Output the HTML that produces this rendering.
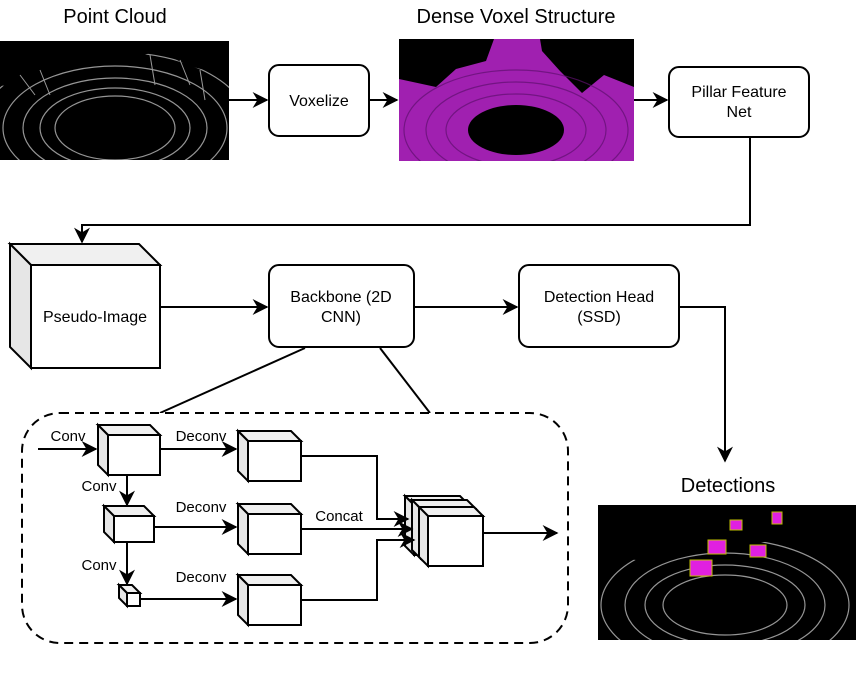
<!DOCTYPE html>
<html><head><style>body{margin:0;background:#fff}svg{display:block;font-family:"Liberation Sans",sans-serif}</style></head><body>
<svg width="858" height="686" viewBox="0 0 858 686" xmlns="http://www.w3.org/2000/svg">
<defs>
<marker id="a" viewBox="0 0 10 10" refX="9" refY="5" markerWidth="8" markerHeight="8" orient="auto"><path d="M0,0L10,5L0,10L3,5z" fill="#000"/></marker>
<clipPath id="c1"><rect x="0" y="41" width="229" height="119"/></clipPath>
<clipPath id="c2"><rect x="399" y="39" width="235" height="122"/></clipPath>
<clipPath id="c3"><rect x="598" y="505" width="258" height="135"/></clipPath>
</defs>
<g fill="none" stroke="#000" stroke-width="2">
<g clip-path="url(#c1)">
<rect x="0" y="41" width="229" height="119" fill="#000" stroke="none"/>
<g stroke="#bbb" stroke-width="1.2" opacity="0.8">
<ellipse cx="115" cy="128" rx="60" ry="32"/><ellipse cx="115" cy="128" rx="75" ry="40"/><ellipse cx="115" cy="128" rx="92" ry="50"/><ellipse cx="115" cy="128" rx="112" ry="62"/><ellipse cx="115" cy="128" rx="135" ry="76"/>
</g>
<path d="M0,41h229v35l-40,-10l-30,-15l-40,10l-40,5l-40,15l-39,5z" fill="#000" stroke="none"/>
<g stroke="#999" stroke-width="1"><path d="M20,75l15,20M40,70l10,25M150,55l5,30M180,60l10,25M200,70l5,30"/></g>
</g>
<g clip-path="url(#c2)">
<rect x="399" y="39" width="235" height="122" fill="#a020b0" stroke="none"/>
<path d="M399,39h95l-8,22l-30,8l-20,18l-37,-8z M540,39h94v48l-30,-12l-22,18l-22,-22l-18,-20z" fill="#000" stroke="none"/>
<g stroke="#601070" stroke-width="1.2" opacity="0.7"><ellipse cx="516" cy="130" rx="70" ry="36"/><ellipse cx="516" cy="130" rx="90" ry="48"/><ellipse cx="516" cy="130" rx="112" ry="60"/></g>
<ellipse cx="516" cy="130" rx="48" ry="25" fill="#000" stroke="none"/>
</g>
<g clip-path="url(#c3)">
<rect x="598" y="505" width="258" height="135" fill="#000" stroke="none"/>
<g stroke="#bbb" stroke-width="1.2" opacity="0.8">
<ellipse cx="725" cy="605" rx="62" ry="30"/><ellipse cx="725" cy="605" rx="80" ry="40"/><ellipse cx="725" cy="605" rx="100" ry="52"/><ellipse cx="725" cy="605" rx="124" ry="66"/>
</g>
<path d="M598,505h258v40l-50,-10l-60,10l-60,5l-50,10l-38,-5z" fill="#000" stroke="none"/>
<g fill="#e020e0" stroke="#c0c000" stroke-width="1"><rect x="690" y="560" width="22" height="16"/><rect x="708" y="540" width="18" height="14"/><rect x="750" y="545" width="16" height="12"/><rect x="730" y="520" width="12" height="10"/><rect x="772" y="512" width="10" height="12"/></g>
</g>
<rect x="269" y="65" width="100" height="71" rx="10" fill="#fff"/>
<rect x="669" y="67" width="140" height="70" rx="10" fill="#fff"/>
<line x1="229" y1="100" x2="267" y2="100" marker-end="url(#a)"/>
<line x1="369" y1="100" x2="397" y2="100" marker-end="url(#a)"/>
<line x1="634" y1="100" x2="667" y2="100" marker-end="url(#a)"/>
<polyline points="750,137 750,225 82,225 82,242" marker-end="url(#a)"/>
<rect x="31" y="265" width="129" height="103" fill="#fff"/>
<polygon points="10,244 139,244 160,265 31,265" fill="#f0f0f0"/>
<polygon points="10,244 31,265 31,368 10,347" fill="#e6e6e6"/>
<rect x="269" y="265" width="145" height="82" rx="10" fill="#fff"/>
<rect x="519" y="265" width="160" height="82" rx="10" fill="#fff"/>
<line x1="160" y1="307" x2="267" y2="307" marker-end="url(#a)"/>
<line x1="414" y1="307" x2="517" y2="307" marker-end="url(#a)"/>
<polyline points="679,307 725,307 725,461" marker-end="url(#a)"/>
<line x1="305" y1="348" x2="160" y2="413"/>
<line x1="380" y1="348" x2="430" y2="413"/>
<rect x="22" y="413" width="546" height="230" rx="38" stroke-dasharray="9,6" fill="#fff"/>
<g fill="#fff">
<rect x="108" y="435" width="52" height="40"/><polygon points="98,425 150,425 160,435 108,435" fill="#f0f0f0"/><polygon points="98,425 108,435 108,475 98,465" fill="#e6e6e6"/>
<rect x="114" y="516" width="40" height="26"/><polygon points="104,506 144,506 154,516 114,516" fill="#f0f0f0"/><polygon points="104,506 114,516 114,542 104,532" fill="#e6e6e6"/>
<rect x="127" y="593" width="13" height="13"/><polygon points="119,585 132,585 140,593 127,593" fill="#f0f0f0"/><polygon points="119,585 127,593 127,606 119,598" fill="#e6e6e6"/>
<g id="dc"><rect x="248" y="441" width="53" height="40"/><polygon points="238,431 291,431 301,441 248,441" fill="#f0f0f0"/><polygon points="238,431 248,441 248,481 238,471" fill="#e6e6e6"/></g>
<use href="#dc" y="73"/><use href="#dc" y="144"/>
<g id="cc"><rect x="414" y="505" width="55" height="50"/><polygon points="405,496 460,496 469,505 414,505" fill="#f0f0f0"/><polygon points="405,496 414,505 414,555 405,546" fill="#e6e6e6"/></g>
<use href="#cc" x="7" y="4"/><use href="#cc" x="14" y="11"/>
</g>
<line x1="38" y1="449" x2="96" y2="449" marker-end="url(#a)"/>
<line x1="160" y1="449" x2="236" y2="449" marker-end="url(#a)"/>
<line x1="127" y1="475" x2="127" y2="505" marker-end="url(#a)"/>
<line x1="127" y1="542" x2="127" y2="584" marker-end="url(#a)"/>
<line x1="154" y1="527" x2="236" y2="527" marker-end="url(#a)"/>
<line x1="140" y1="599" x2="236" y2="599" marker-end="url(#a)"/>
<polyline points="301,456 377,456 377,519 408,519" marker-end="url(#a)"/>
<line x1="301" y1="529" x2="412" y2="529" marker-end="url(#a)"/>
<polyline points="301,600 377,600 377,540 414,540" marker-end="url(#a)"/>
<line x1="483" y1="533" x2="557" y2="533" marker-end="url(#a)"/>
</g>
<g font-size="16" fill="#000" text-anchor="middle">
<text x="115" y="23" font-size="20">Point Cloud</text>
<text x="516" y="23" font-size="20">Dense Voxel Structure</text>
<text x="728" y="492" font-size="20">Detections</text>
<text x="319" y="106">Voxelize</text>
<text x="739" y="97">Pillar Feature</text><text x="739" y="117">Net</text>
<text x="95" y="322">Pseudo-Image</text>
<text x="341" y="302">Backbone (2D</text><text x="341" y="322">CNN)</text>
<text x="599" y="302">Detection Head</text><text x="599" y="322">(SSD)</text>
<g font-size="15"><text x="68" y="441">Conv</text><text x="201" y="441">Deconv</text>
<text x="99" y="491">Conv</text><text x="201" y="512">Deconv</text><text x="339" y="521">Concat</text>
<text x="99" y="570">Conv</text><text x="201" y="582">Deconv</text></g>
</g>
</svg>
</body></html>
